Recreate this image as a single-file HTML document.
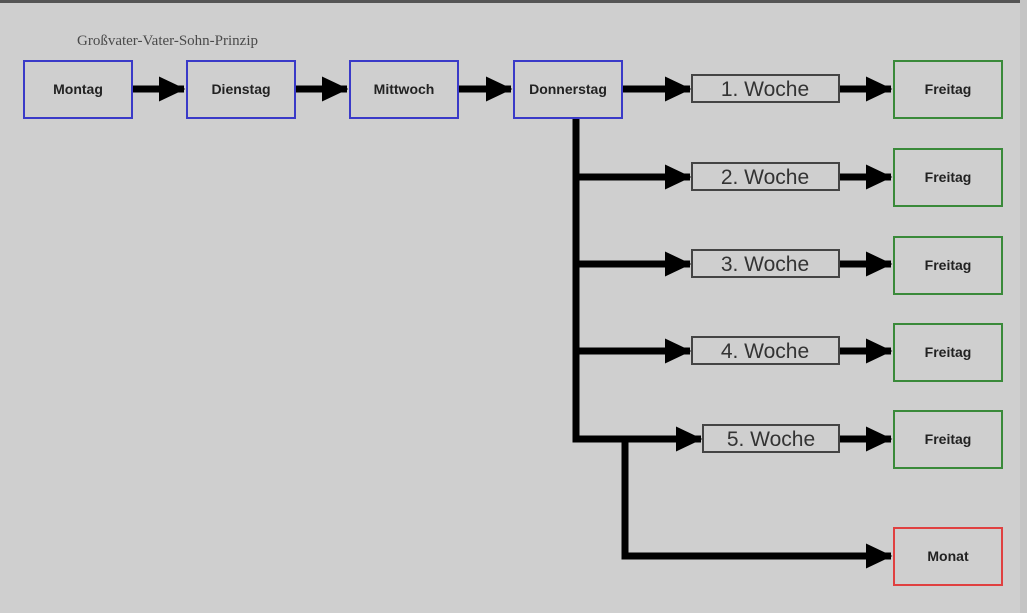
<!DOCTYPE html>
<html><head><meta charset="utf-8"><style>
body{margin:0;width:1027px;height:613px;overflow:hidden;background:#cfcfcf;}
svg{display:block}
</style></head><body>
<svg width="1027" height="613" xmlns="http://www.w3.org/2000/svg">
<rect x="0" y="0" width="1027" height="613" fill="#cfcfcf"/>
<rect x="0" y="0" width="1027" height="3" fill="#555"/>
<rect x="1020" y="0" width="7" height="613" fill="#c4c4c4"/>
<text x="77" y="45" font-family="Liberation Serif, serif" font-size="15" fill="#4a4a4a">Großvater-Vater-Sohn-Prinzip</text>
<defs>
<marker id="ah" markerWidth="3.8" markerHeight="3.6" refX="3.6" refY="1.8" orient="auto" markerUnits="strokeWidth">
<path d="M0,0 L3.8,1.8 L0,3.6 z" fill="#000"/></marker>
</defs>
<g stroke="#000" stroke-width="7" fill="none">
<line x1="133" y1="89" x2="184" y2="89" marker-end="url(#ah)"/>
<line x1="296" y1="89" x2="347" y2="89" marker-end="url(#ah)"/>
<line x1="459" y1="89" x2="511" y2="89" marker-end="url(#ah)"/>
<line x1="622" y1="89" x2="690" y2="89" marker-end="url(#ah)"/>
<polyline points="576,118 576,439 701,439" marker-end="url(#ah)"/>
<line x1="576" y1="177" x2="690" y2="177" marker-end="url(#ah)"/>
<line x1="576" y1="264" x2="690" y2="264" marker-end="url(#ah)"/>
<line x1="576" y1="351" x2="690" y2="351" marker-end="url(#ah)"/>
<polyline points="625,439 625,556 891,556" marker-end="url(#ah)"/>
<line x1="839" y1="89" x2="891" y2="89" marker-end="url(#ah)"/>
<line x1="839" y1="177" x2="891" y2="177" marker-end="url(#ah)"/>
<line x1="839" y1="264" x2="891" y2="264" marker-end="url(#ah)"/>
<line x1="839" y1="351" x2="891" y2="351" marker-end="url(#ah)"/>
<line x1="839" y1="439" x2="891" y2="439" marker-end="url(#ah)"/>
</g>
<g fill="#cfcfcf" stroke-width="2">
<rect x="24" y="61" width="108" height="57" stroke="#3a3ac8"/>
<rect x="187" y="61" width="108" height="57" stroke="#3a3ac8"/>
<rect x="350" y="61" width="108" height="57" stroke="#3a3ac8"/>
<rect x="514" y="61" width="108" height="57" stroke="#3a3ac8"/>
<rect x="894" y="61" width="108" height="57" stroke="#3a8a3a"/>
<rect x="894" y="149" width="108" height="57" stroke="#3a8a3a"/>
<rect x="894" y="237" width="108" height="57" stroke="#3a8a3a"/>
<rect x="894" y="324" width="108" height="57" stroke="#3a8a3a"/>
<rect x="894" y="411" width="108" height="57" stroke="#3a8a3a"/>
<rect x="894" y="528" width="108" height="57" stroke="#e04040"/>
<rect x="692" y="75" width="147" height="27" stroke="#444"/>
<rect x="692" y="163" width="147" height="27" stroke="#444"/>
<rect x="692" y="250" width="147" height="27" stroke="#444"/>
<rect x="692" y="337" width="147" height="27" stroke="#444"/>
<rect x="703" y="425" width="136" height="27" stroke="#444"/>
</g>
<g font-family="Liberation Sans, sans-serif" font-weight="bold" font-size="14" fill="#222" text-anchor="middle">
<text x="78" y="94">Montag</text>
<text x="241" y="94">Dienstag</text>
<text x="404" y="94">Mittwoch</text>
<text x="568" y="94">Donnerstag</text>
<text x="948" y="94">Freitag</text>
<text x="948" y="182">Freitag</text>
<text x="948" y="270">Freitag</text>
<text x="948" y="357">Freitag</text>
<text x="948" y="444">Freitag</text>
<text x="948" y="561">Monat</text>
</g>
<g font-family="Liberation Sans, sans-serif" font-size="21" fill="#333" text-anchor="middle">
<text x="765" y="96">1. Woche</text>
<text x="765" y="184">2. Woche</text>
<text x="765" y="271">3. Woche</text>
<text x="765" y="358">4. Woche</text>
<text x="771" y="446">5. Woche</text>
</g>
</svg>
</body></html>
